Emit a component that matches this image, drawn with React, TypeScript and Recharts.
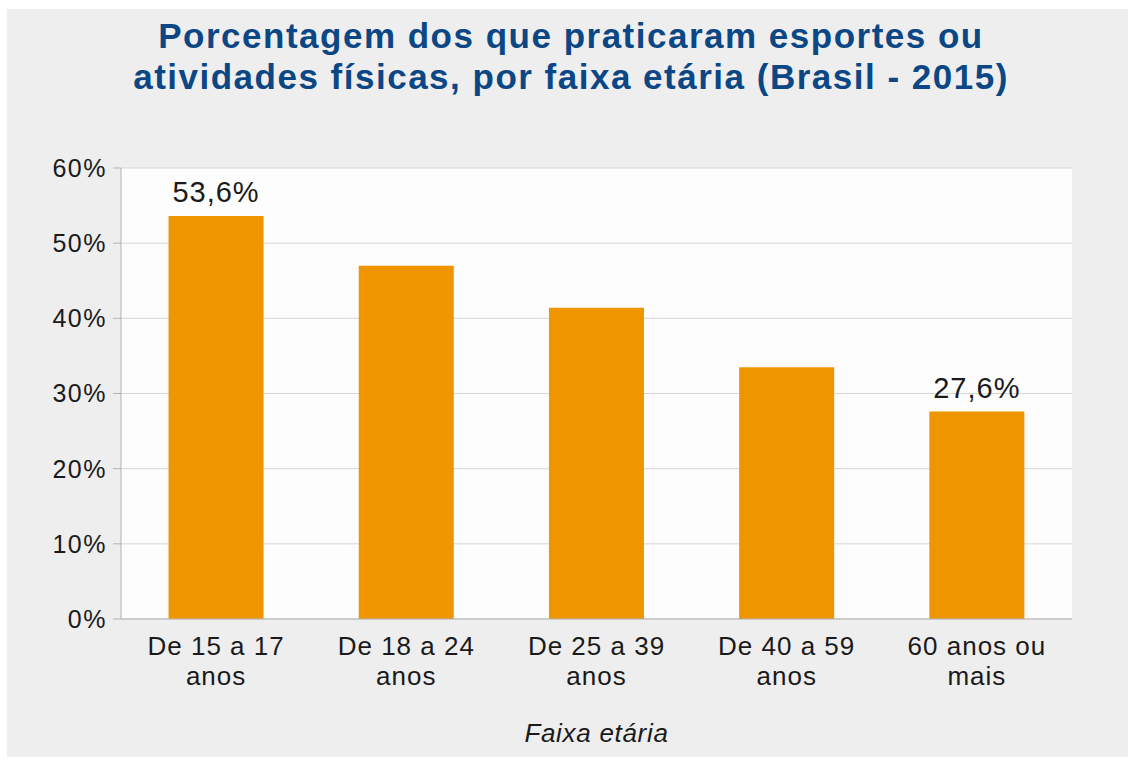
import React from "react";
import {
  BarChart,
  Bar,
  XAxis,
  YAxis,
  CartesianGrid,
  LabelList,
  Label,
  ReferenceLine,
} from "recharts";

const categories = [
  "De 15 a 17 anos",
  "De 18 a 24 anos",
  "De 25 a 39 anos",
  "De 40 a 59 anos",
  "60 anos ou mais",
];
const tickLines = [
  ["De 15 a 17", "anos"],
  ["De 18 a 24", "anos"],
  ["De 25 a 39", "anos"],
  ["De 40 a 59", "anos"],
  ["60 anos ou", "mais"],
];
const values = [53.6, 47.0, 41.4, 33.5, 27.6];
const valueLabels = ["53,6%", "", "", "", "27,6%"];
const yTicks = [0, 10, 20, 30, 40, 50, 60];
const boundaryTicks = [0, 1, 2, 3, 4, 5];

const title = [
  "Porcentagem dos que praticaram esportes ou",
  "atividades físicas, por faixa etária (Brasil - 2015)",
];
const xTitle = "Faixa etária";

const FONT = "'Liberation Sans', Arial, sans-serif";
const AXIS = "#b3b3b3";
const TEXT = "#1a1a1a";

const data = categories.map((c, i) => ({
  name: c,
  value: values[i],
  label: valueLabels[i],
}));

const CatTick = (props: any) => {
  const { x, y, index } = props;
  const lines = tickLines[index] || [];
  return (
    <text
      x={x}
      y={y}
      textAnchor="middle"
      fill={TEXT}
      fontSize={26}
      letterSpacing={1}
      fontFamily={FONT}
    >
      {lines.map((l, i) => (
        <tspan key={i} x={x} dy={i === 0 ? 28 : 30}>
          {l}
        </tspan>
      ))}
    </text>
  );
};

export default function App() {
  return (
    <div
      style={{
        position: "absolute",
        left: 0,
        top: 0,
        width: 1128,
        height: 762,
        background: "#ffffff",
        overflow: "hidden",
      }}
    >
      <div
        style={{
          position: "absolute",
          left: 7,
          top: 9,
          width: 1121,
          height: 748,
          background: "#eeeeee",
        }}
      />
      <div
        style={{
          position: "absolute",
          left: 0,
          top: 15,
          width: 1142,
          textAlign: "center",
          fontFamily: FONT,
          fontWeight: "bold",
          fontSize: 35,
          letterSpacing: "1.5px",
          lineHeight: "41px",
          color: "#0b4685",
        }}
      >
        {title.map((t, i) => (
          <div key={i}>{t}</div>
        ))}
      </div>
      <div style={{ position: "absolute", left: 0, top: 0 }}>
        <BarChart
          width={1128}
          height={762}
          data={data}
          margin={{ top: 168, right: 56, bottom: 0, left: 0 }}
          barCategoryGap="25%"
        >
          <CartesianGrid
            vertical={false}
            stroke="#d6d6d6"
            fill="#fdfdfd"
            yAxisId="y"
            xAxisId="cat"
          />
          <XAxis
            xAxisId="b"
            type="number"
            domain={[0, 5]}
            ticks={boundaryTicks}
            tick={false}
            tickSize={8}
            tickLine={{ stroke: AXIS }}
            axisLine={false}
            height={0}
          />
          <XAxis
            xAxisId="cat"
            dataKey="name"
            type="category"
            tickLine={false}
            axisLine={{ stroke: AXIS }}
            tick={<CatTick />}
            interval={0}
            height={143}
          >
            <Label
              value={xTitle}
              position="insideBottom"
              offset={20}
              fill={TEXT}
              fontSize={26}
              letterSpacing={0.7}
              fontStyle="italic"
              fontFamily={FONT}
            />
          </XAxis>
          <YAxis
            yAxisId="y"
            domain={[0, 60]}
            ticks={yTicks}
            width={121}
            tickFormatter={(v: number) => `${v}%`}
            tickLine={{ stroke: AXIS }}
            tickSize={8}
            tickMargin={6}
            axisLine={{ stroke: AXIS }}
            tick={{ fill: TEXT, fontSize: 25, fontFamily: FONT, letterSpacing: 1.5 }}
            interval={0}
          />
          <ReferenceLine
            x={5}
            xAxisId="b"
            yAxisId="y"
            stroke="#9a9a9a"
            ifOverflow="visible"
          />
          <Bar
            dataKey="value"
            xAxisId="cat"
            yAxisId="y"
            fill="#ee9500"
            isAnimationActive={false}
          >
            <LabelList
              dataKey="label"
              position="top"
              offset={14}
              fill={TEXT}
              fontSize={29}
              letterSpacing={1}
              fontFamily={FONT}
            />
          </Bar>
        </BarChart>
      </div>
    </div>
  );
}
